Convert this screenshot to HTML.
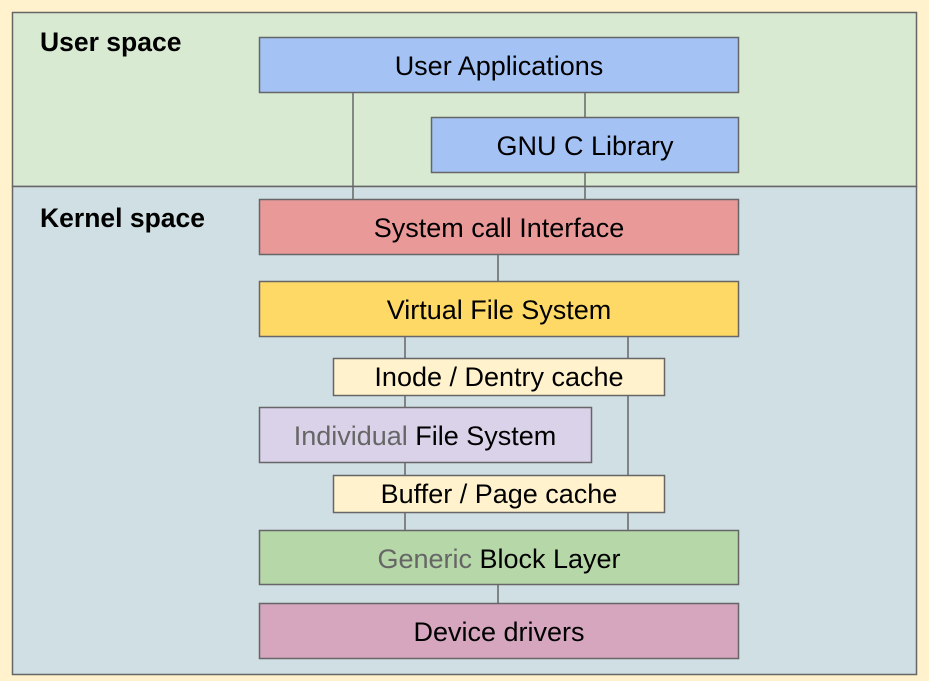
<!DOCTYPE html>
<html><head><meta charset="utf-8"><style>
body{margin:0;background:#fff2cc;}
svg{display:block}
text{font-family:"Liberation Sans",sans-serif;}
</style></head><body>
<svg width="929" height="681" viewBox="0 0 929 681">
<rect x="0" y="0" width="929" height="681" fill="#fff2cc"/>
<rect x="12.5" y="12.5" width="904" height="174" fill="#d9ead3" stroke="#666" stroke-width="1.5"/>
<rect x="12.5" y="186.5" width="904" height="488" fill="#d0dfe3" stroke="#666" stroke-width="1.5"/>
<text x="40" y="51" font-size="26.5" font-weight="bold" fill="#000">User space</text>
<text x="40" y="227" font-size="26.5" font-weight="bold" fill="#000">Kernel space</text>
<g stroke="#666" stroke-width="1.5" fill="none">
<line x1="353" y1="92" x2="353" y2="199"/>
<line x1="585" y1="92" x2="585" y2="199"/>
<line x1="498" y1="254" x2="498" y2="281"/>
<line x1="405" y1="336" x2="405" y2="530"/>
<line x1="628" y1="336" x2="628" y2="530"/>
<line x1="498" y1="584" x2="498" y2="603"/>
</g>
<g stroke="#666" stroke-width="1.5">
<rect x="259.5" y="37.5" width="479" height="55" fill="#a4c2f4"/>
<rect x="431.5" y="117.5" width="307" height="55" fill="#a4c2f4"/>
<rect x="259.5" y="199.5" width="479" height="55" fill="#ea9999"/>
<rect x="259.5" y="281.5" width="479" height="55" fill="#ffd966"/>
<rect x="333.5" y="358.5" width="331" height="37" fill="#fff2cc"/>
<rect x="259.5" y="407.5" width="332" height="55" fill="#d9d2e9"/>
<rect x="333.5" y="475.5" width="331" height="37" fill="#fff2cc"/>
<rect x="259.5" y="530.5" width="479" height="54" fill="#b6d7a8"/>
<rect x="259.5" y="603.5" width="479" height="55" fill="#d5a6bd"/>
</g>
<g font-size="27" text-anchor="middle" fill="#000">
<text x="499" y="75">User Applications</text>
<text x="585" y="155">GNU C Library</text>
<text x="499" y="237">System call Interface</text>
<text x="499" y="319">Virtual File System</text>
<text x="499" y="386">Inode / Dentry cache</text>
<text x="425" y="445"><tspan fill="#666">Individual</tspan> File System</text>
<text x="499" y="503">Buffer / Page cache</text>
<text x="499" y="568"><tspan fill="#666">Generic</tspan> Block Layer</text>
<text x="499" y="641">Device drivers</text>
</g>
</svg>
</body></html>
